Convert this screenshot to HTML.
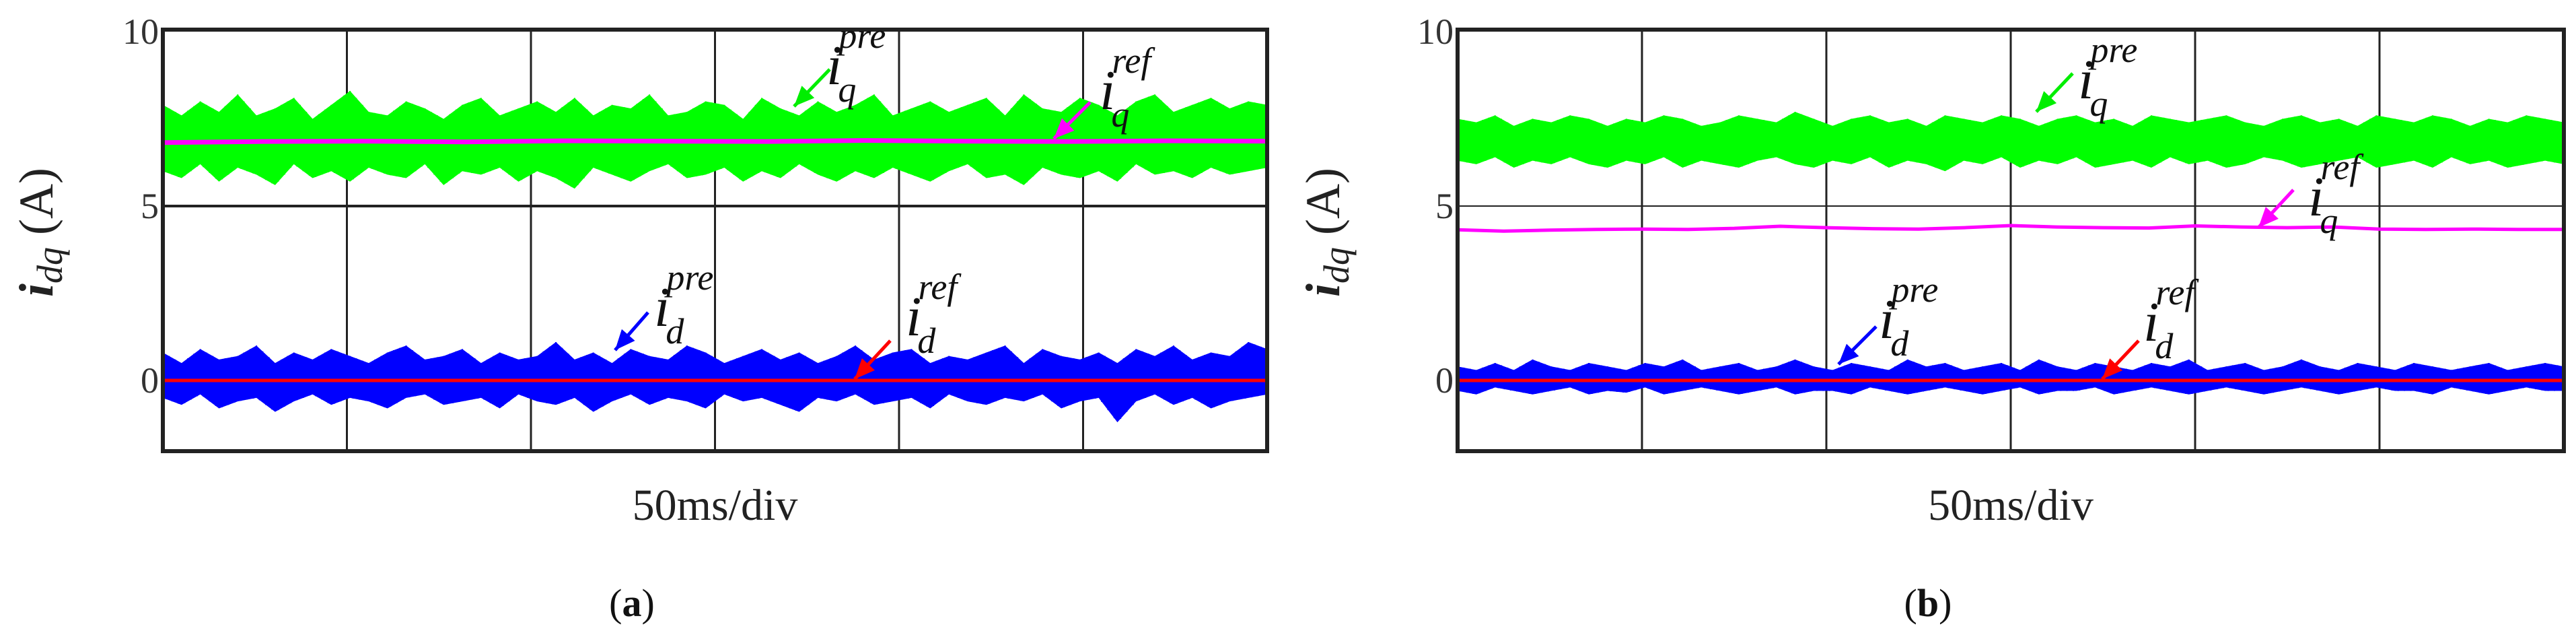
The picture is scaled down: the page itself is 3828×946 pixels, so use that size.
<!DOCTYPE html>
<html><head><meta charset="utf-8"><style>
html,body{margin:0;padding:0;background:#fff;}
svg{display:block;font-family:"Liberation Serif",serif;}
</style></head><body>
<svg id="fig" width="3828" height="946" viewBox="0 0 3828 946" xmlns="http://www.w3.org/2000/svg">
</svg>
<script>
const yTicks=[10,5,0];
const aGreenHi=[7.9,7.6,8.0,7.7,8.2,7.6,7.8,8.1,7.5,7.9,8.3,7.7,7.6,8.0,7.8,7.5,7.9,8.1,7.6,7.8,8.0,7.7,8.1,7.6,7.9,7.8,8.2,7.6,7.7,8.0,7.9,7.5,8.1,7.8,7.6,8.0,7.7,7.9,8.2,7.6,7.8,8.0,7.7,7.9,8.1,7.6,8.2,7.8,7.7,8.1,7.9,7.6,8.0,8.2,7.7,7.9,8.1,7.8,8.0,7.9];
const aGreenLo=[6.0,5.8,6.2,5.7,6.1,5.9,5.6,6.2,5.8,6.0,5.7,6.1,5.9,5.8,6.2,5.6,6.0,5.9,6.1,5.7,6.0,5.8,5.5,6.1,5.9,5.7,6.0,6.2,5.8,5.9,6.1,5.7,6.0,5.8,6.2,5.9,5.7,6.0,5.8,6.1,5.9,5.7,6.0,6.2,5.8,5.9,5.6,6.1,5.9,5.8,6.0,5.7,6.2,5.9,6.0,5.8,6.1,5.9,6.0,6.1];
const aMagenta=[6.82,6.85,6.86,6.84,6.87,6.86,6.85,6.88,6.86,6.85,6.87,6.86];
const aBlueHi=[0.8,0.5,0.9,0.6,0.7,1.0,0.5,0.8,0.6,0.9,0.7,0.5,0.8,1.0,0.6,0.7,0.9,0.5,0.8,0.6,0.7,1.1,0.6,0.8,0.5,0.9,0.7,0.6,1.0,0.8,0.5,0.7,0.9,0.6,0.8,0.5,0.7,1.0,0.6,0.8,0.9,0.5,0.7,0.6,0.8,1.0,0.5,0.9,0.7,0.6,0.8,0.5,0.9,0.7,1.0,0.6,0.8,0.7,1.1,0.9];
const aBlueLo=[-0.5,-0.7,-0.4,-0.8,-0.6,-0.5,-0.9,-0.6,-0.4,-0.7,-0.5,-0.6,-0.8,-0.5,-0.4,-0.7,-0.6,-0.5,-0.8,-0.4,-0.6,-0.7,-0.5,-0.9,-0.6,-0.4,-0.7,-0.5,-0.6,-0.8,-0.4,-0.6,-0.5,-0.7,-0.9,-0.5,-0.6,-0.4,-0.7,-0.6,-0.5,-0.8,-0.4,-0.6,-0.7,-0.5,-0.6,-0.4,-0.8,-0.6,-0.5,-1.2,-0.6,-0.4,-0.7,-0.5,-0.8,-0.6,-0.5,-0.4];
const bGreenHi=[7.5,7.4,7.6,7.3,7.5,7.4,7.6,7.5,7.3,7.5,7.4,7.6,7.5,7.3,7.4,7.6,7.5,7.4,7.7,7.5,7.3,7.5,7.6,7.4,7.5,7.3,7.6,7.5,7.4,7.6,7.5,7.3,7.5,7.6,7.4,7.5,7.3,7.6,7.5,7.4,7.5,7.6,7.4,7.3,7.5,7.6,7.4,7.5,7.3,7.6,7.5,7.4,7.6,7.5,7.3,7.5,7.4,7.6,7.5,7.4];
const bGreenLo=[6.3,6.2,6.4,6.1,6.3,6.2,6.4,6.2,6.1,6.3,6.2,6.4,6.1,6.3,6.2,6.1,6.3,6.4,6.2,6.1,6.3,6.2,6.4,6.1,6.3,6.2,6.0,6.3,6.2,6.4,6.1,6.3,6.2,6.4,6.1,6.2,6.3,6.1,6.4,6.2,6.3,6.1,6.2,6.4,6.3,6.1,6.2,6.3,6.4,6.1,6.2,6.3,6.1,6.4,6.2,6.3,6.1,6.2,6.3,6.2];
const bMagenta=[4.32,4.28,4.31,4.33,4.34,4.33,4.36,4.42,4.38,4.35,4.34,4.38,4.44,4.40,4.38,4.37,4.43,4.40,4.38,4.40,4.34,4.33,4.34,4.33,4.33];
const bBlueHi=[0.4,0.3,0.5,0.3,0.6,0.4,0.3,0.5,0.4,0.3,0.5,0.4,0.6,0.3,0.4,0.5,0.3,0.4,0.6,0.4,0.3,0.5,0.4,0.3,0.6,0.4,0.5,0.3,0.4,0.5,0.3,0.6,0.4,0.3,0.5,0.4,0.3,0.5,0.4,0.6,0.3,0.4,0.5,0.3,0.4,0.6,0.4,0.3,0.5,0.4,0.3,0.5,0.4,0.3,0.4,0.5,0.3,0.4,0.5,0.4];
const bBlueLo=[-0.3,-0.4,-0.2,-0.3,-0.4,-0.3,-0.2,-0.4,-0.3,-0.35,-0.2,-0.4,-0.3,-0.2,-0.3,-0.4,-0.3,-0.2,-0.4,-0.3,-0.3,-0.4,-0.2,-0.3,-0.4,-0.3,-0.2,-0.3,-0.4,-0.3,-0.2,-0.4,-0.3,-0.3,-0.2,-0.4,-0.3,-0.2,-0.3,-0.4,-0.3,-0.2,-0.3,-0.4,-0.3,-0.2,-0.3,-0.4,-0.3,-0.2,-0.3,-0.3,-0.4,-0.2,-0.3,-0.4,-0.3,-0.2,-0.3,-0.3];
const refD=0;

const NS="http://www.w3.org/2000/svg";
const svg=document.getElementById('fig');
function mk(tag,attrs,parent){const e=document.createElementNS(NS,tag);for(const k in attrs)e.setAttribute(k,attrs[k]);(parent||svg).appendChild(e);return e;}
const defs=mk('defs',{});

function panel(p){
  const L=p.left,R=p.right,T=44,B=670;
  const y=v=>565-(v)*51.8;
  const x=(i,n)=>L+(R-L)*i/(n-1);
  const cp=mk('clipPath',{id:'clip-'+p.cap},defs);
  mk('rect',{x:L,y:T,width:R-L,height:B-T},cp);
  const g=mk('g',{});
  
  
  const div=(R-L)/6;
  for(let k=1;k<6;k++){
    const gl=mk('line',{x1:L+k*div,x2:L+k*div,y1:T,y2:B,stroke:'#222','stroke-width':3},g);
    
    
  }
  const hl=mk('line',{x1:L,x2:R,y1:y(5),y2:y(5),stroke:'#222','stroke-width':p.hw},g);
  
  
  const dg=mk('g',{'clip-path':'url(#clip-'+p.cap+')'},g);
  
  
  function band(hi,lo,color,nm){
    let pts=[];
    const n=hi.length;
    for(let i=0;i<n;i++)pts.push(x(i,n)+','+y(hi[i]));
    for(let i=n-1;i>=0;i--)pts.push(x(i,n)+','+y(lo[i]));
    const e=mk('polygon',{points:pts.join(' '),fill:color},dg);
    
    
    let zz=[];
    const step=(R-L)/(n-1);
    for(let i=0;i<n-1;i++){
      const a=hi[i],b=hi[i+1],c=lo[i],d=lo[i+1];
      const mh=(a+b)/2,ml=(c+d)/2;
      for(let s=0;s<6;s++){
        const xx=x(i,n)+step*s/6;
        const f=s/6;
        const h=a+(b-a)*f,l=c+(d-c)*f;
        const amp=(s%2===0)?h:l;
        zz.push(xx+','+y(amp));
      }
    }
    const z=mk('polyline',{points:zz.join(' '),fill:'none',stroke:color,'stroke-width':2},dg);
    
    
  }
  function line(arr,color,w,nm){
    const pts=arr.map((v,i)=>x(i,arr.length)+','+y(v)).join(' ');
    const e=mk('polyline',{points:pts,fill:'none',stroke:color,'stroke-width':w},dg);
    
    
  }
  band(p.gHi,p.gLo,'#00ff00','iq-pre-series');
  line(p.mag,'#ff00ff',p.mw,'iq-ref-series');
  band(p.bHi,p.bLo,'#0000ff','id-pre-series');
  line([refD,refD],'#ff0000',5,'id-ref-series');
  const fr=mk('rect',{x:L,y:T,width:R-L,height:B-T,fill:'none',stroke:'#222','stroke-width':6},g);
  
  
  yTicks.forEach(v=>{
    const t=mk('text',{x:L-6,y:y(v)+18,'text-anchor':'end','font-size':54,fill:'#333'},g);
    t.textContent=v;
    
    
  });
  const yl=mk('text',{transform:`translate(${p.ylx},345) rotate(-90)`,'text-anchor':'middle','font-size':72,fill:'#222'},g);
  yl.innerHTML='<tspan font-style="italic" font-weight="bold">i</tspan><tspan font-style="italic" font-size="54" dy="14">dq</tspan><tspan dy="-14"> (A)</tspan>';
  
  
  const xl=mk('text',{x:(L+R)/2,y:772,'text-anchor':'middle','font-size':66,fill:'#222'},g);
  xl.textContent='50ms/div';
  
  
  const cap=mk('text',{x:p.capx,y:915,'text-anchor':'middle','font-size':58,fill:'#111'},g);
  cap.innerHTML='(<tspan font-weight="bold">'+p.cap+'</tspan>)';
  
  
  p.ann.forEach(a=>{
    const ag=mk('g',{},g);
    
    
    const [x1,y1,x2,y2]=a.ar;
    mk('line',{x1:x1,y1:y1,x2:x2,y2:y2,stroke:a.c,'stroke-width':5},ag);
    const ang=Math.atan2(y2-y1,x2-x1),h=30,wd=13;
    const bx=x2-h*Math.cos(ang),by=y2-h*Math.sin(ang);
    mk('polygon',{points:`${x2},${y2} ${bx+wd*Math.sin(ang)},${by-wd*Math.cos(ang)} ${bx-wd*Math.sin(ang)},${by+wd*Math.cos(ang)}`,fill:a.c},ag);
    const t=mk('text',{x:a.tx,y:a.ty,'font-size':84,'font-style':'italic',fill:'#111'},ag);
    t.innerHTML='i<tspan font-size="54" dy="26" dx="-6">'+a.sub+'</tspan><tspan font-size="54" dy="-80" dx="-26">'+a.sup+'</tspan>';
  });
}
panel({name:'panel-a',left:242,right:1883,hw:4,mw:7,ylx:78,capx:939,cap:'a',
  gHi:aGreenHi,gLo:aGreenLo,mag:aMagenta,bHi:aBlueHi,bLo:aBlueLo,
  ann:[{nm:'iq-pre-label',c:'#00ee00',ar:[1233,103,1180,158],tx:1228,ty:125,sub:'q',sup:'pre'},
       {nm:'iq-ref-label',c:'#ff00ff',ar:[1620,152,1566,206],tx:1634,ty:162,sub:'q',sup:'ref'},
       {nm:'id-pre-label',c:'#0000ff',ar:[963,464,914,520],tx:972,ty:484,sub:'d',sup:'pre'},
       {nm:'id-ref-label',c:'#ff0000',ar:[1323,506,1270,563],tx:1346,ty:498,sub:'d',sup:'ref'}]});
panel({name:'panel-b',left:2166,right:3810,hw:2,mw:5,ylx:1990,capx:2865,cap:'b',
  gHi:bGreenHi,gLo:bGreenLo,mag:bMagenta,bHi:bBlueHi,bLo:bBlueLo,
  ann:[{nm:'iq-pre-label',c:'#00ee00',ar:[3080,109,3026,166],tx:3088,ty:146,sub:'q',sup:'pre'},
       {nm:'iq-ref-label',c:'#ff00ff',ar:[3408,282,3356,338],tx:3430,ty:320,sub:'q',sup:'ref'},
       {nm:'id-pre-label',c:'#0000ff',ar:[2788,485,2732,541],tx:2792,ty:502,sub:'d',sup:'pre'},
       {nm:'id-ref-label',c:'#ff0000',ar:[3178,506,3124,563],tx:3185,ty:506,sub:'d',sup:'ref'}]});
</script>
</body></html>
